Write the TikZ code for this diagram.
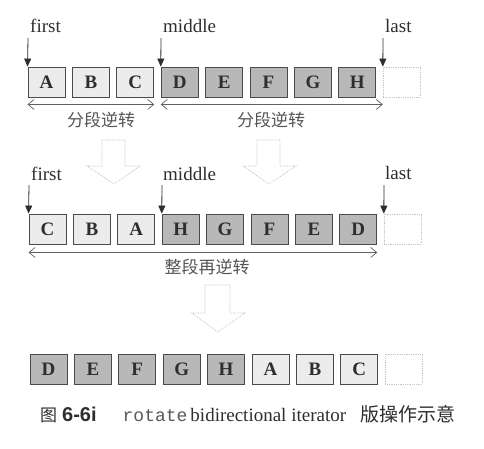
\documentclass[tikz,border=0pt]{standalone}
\usepackage{fontspec}
\setmainfont{Liberation Serif}
\setmonofont{Liberation Mono}
\newfontfamily\cjk{Noto Sans CJK SC}
\newfontfamily\hv{Liberation Sans}
\usetikzlibrary{arrows.meta}
\definecolor{bordc}{HTML}{4A4A4A}
\definecolor{litec}{HTML}{ECECEC}
\definecolor{darkc}{HTML}{B8B8B8}
\definecolor{txtc}{HTML}{2E2E2E}
\definecolor{cnc}{HTML}{555555}
\tikzset{
 cell/.style={draw=bordc, line width=0.9pt, minimum width=37pt, minimum height=30pt, inner sep=0pt, font=\fontsize{19}{19}\selectfont\bfseries, text=txtc},
 lite/.style={cell, fill=litec},
 dark/.style={cell, fill=darkc},
 emptycell/.style={draw=gray!45, densely dotted, line width=0.8pt, minimum width=37pt, minimum height=30pt, inner sep=0pt},
 ptr/.style={-{Triangle[width=7pt,length=8pt]}, line width=0.8pt, draw=txtc},
 spanarr/.style={{Straight Barb[length=6pt,width=10pt]}-{Straight Barb[length=6pt,width=10pt]}, line width=0.7pt, draw=gray!75!black},
 hollow/.style={draw=gray!55, densely dotted, line width=0.7pt},
 lbl/.style={font=\fontsize{19}{19}\selectfont, text=txtc, inner sep=0pt, anchor=base west},
 cn/.style={font=\cjk\fontsize{17}{17}\selectfont, text=cnc, inner sep=0pt}
}
\begin{document}
\begin{tikzpicture}[x=1pt,y=-1pt]
\useasboundingbox[fill=white] (0,0) rectangle (484,448);
% ---------- row 1 ----------
\foreach \t/\s [count=\i from 0] in {A/lite,B/lite,C/lite,D/dark,E/dark,F/dark,G/dark,H/dark}
  \node[\s] (r1-\i) at ({46.5+44.4*\i},82) {\t};
\node[emptycell] (r1-8) at ({46.5+44.4*8},82) {};
\node[lbl] (lf1) at (30,32) {first};
\node[lbl] (lm1) at (163,32) {middle};
\node[lbl] (ll1) at (385,32) {last};
\coordinate (pf1) at (28,38);
\coordinate (pm1) at (161,38);
\coordinate (pl1) at (383,38);
\draw[ptr] (pf1) -- (r1-0.north west);
\draw[ptr] (pm1) -- (r1-3.north west);
\draw[ptr] (pl1) -- (r1-8.north west);
\draw[spanarr] ([yshift=-7pt]r1-0.south west) -- ([yshift=-7pt]r1-2.south east);
\draw[spanarr] ([yshift=-7pt]r1-3.south west) -- ([yshift=-7pt]r1-8.south west);
\node[cn] (c1) at (101,120) {分段逆转};
\node[cn] (c2) at (271,120) {分段逆转};
% ---------- hollow arrows ----------
\draw[hollow] (102,140) -- (125,140) -- (125,166) -- (140,166) -- (114,184) -- (87,166) -- (102,166) -- cycle;
\draw[hollow] (257,140) -- (280,140) -- (280,166) -- (296,166) -- (269,184) -- (243,166) -- (257,166) -- cycle;
% ---------- row 2 ----------
\foreach \t/\s [count=\i from 0] in {C/lite,B/lite,A/lite,H/dark,G/dark,F/dark,E/dark,D/dark}
  \node[\s] (r2-\i) at ({47.5+44.4*\i},229) {\t};
\node[emptycell] (r2-8) at ({47.5+44.4*8},229) {};
\node[lbl] (lf2) at (31,180) {first};
\node[lbl] (lm2) at (163,180) {middle};
\node[lbl] (ll2) at (385,179) {last};
\coordinate (pf2) at (29,185);
\coordinate (pm2) at (162,185);
\coordinate (pl2) at (384,185);
\draw[ptr] (pf2) -- (r2-0.north west);
\draw[ptr] (pm2) -- (r2-3.north west);
\draw[ptr] (pl2) -- (r2-8.north west);
\draw[spanarr] ([yshift=-8pt]r2-0.south west) -- ([yshift=-8pt]r2-7.south east);
\node[cn] (c3) at (207,267) {整段再逆转};
% ---------- hollow arrow 3 ----------
\draw[hollow] (205,285) -- (230,285) -- (230,313) -- (245,313) -- (218,332) -- (192,313) -- (205,313) -- cycle;
% ---------- row 3 ----------
\foreach \t/\s [count=\i from 0] in {D/dark,E/dark,F/dark,G/dark,H/dark,A/lite,B/lite,C/lite}
  \node[\s] (r3-\i) at ({48.5+44.4*\i},369) {\t};
\node[emptycell] (r3-8) at ({48.5+44.4*8},369) {};
% ---------- caption ----------
\node[inner sep=0pt, anchor=base west, text=txtc] (cap) at (40,421)
 {{\cjk\fontsize{17}{17}\selectfont 图}\hspace{5pt}{\hv\bfseries\fontsize{20}{20}\selectfont 6-6i}\hspace{26pt}{\ttfamily\fontsize{18}{18}\selectfont\color{gray!70!black}rotate}\hspace{3pt}{\fontsize{19}{19}\selectfont bidirectional iterator}\hspace{14pt}{\cjk\fontsize{19}{19}\selectfont 版操作示意}};
\end{tikzpicture}
\end{document}
